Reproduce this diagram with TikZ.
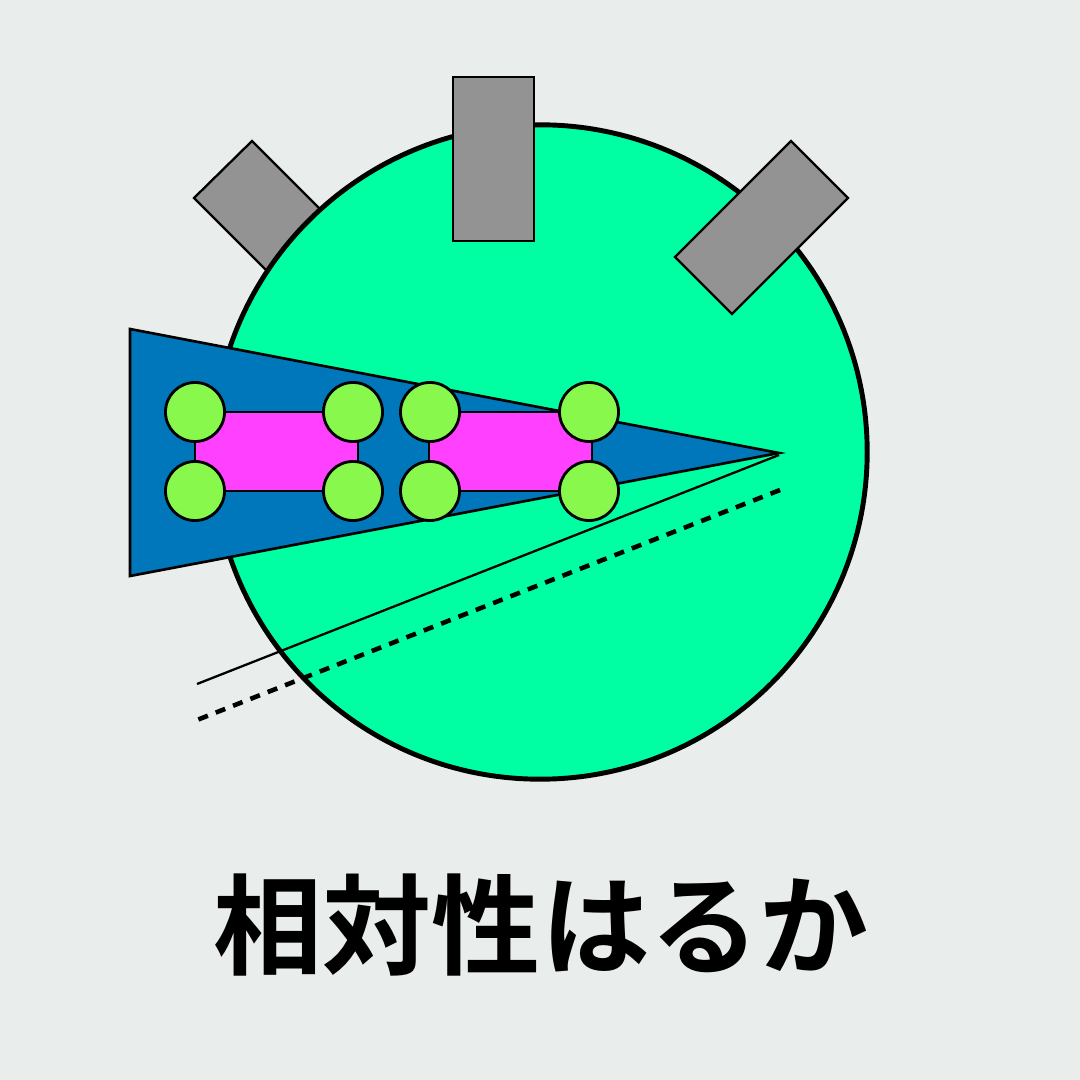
\documentclass[tikz,border=0pt]{standalone}
\usepackage{fontspec}
\newfontfamily\cjk[BoldFont={Noto Sans CJK JP Bold}]{Noto Sans CJK JP}
\definecolor{fondo}{RGB}{233,238,236}
\definecolor{cuerpo}{RGB}{0,255,162}
\definecolor{gris}{RGB}{147,147,147}
\definecolor{azul}{RGB}{0,118,187}
\definecolor{rosa}{RGB}{255,64,255}
\definecolor{verde}{RGB}{136,248,76}

\begin{document}
\begin{tikzpicture}[x=0.01cm,y=-0.01cm,line width=0.75pt,
  rueda/.style={fill=verde,draw=black,line width=0.8pt}]
  \useasboundingbox (0,0) rectangle (1080,1080);
  \fill[fondo] (0,0) rectangle (1080,1080);
  % ===================== placa izquierda (detras) =====================
  \fill[gris] (252,141)--(194,198)--(310,314)--(368,257)--cycle;
  \draw[line width=0.65pt] (252,141)--(194,198)--(310,314)--(368,257)--cycle;
  % ===================== cuerpo =====================
  \fill[cuerpo] (540,452) circle[radius=3.27cm];
  \draw[line width=1.4pt] (540,452) circle[radius=3.27cm];
  % placas de arriba
  \fill[gris] (453,77) rectangle (534,241); \draw[line width=0.65pt] (453,77) rectangle (534,241);
  \fill[gris] (791,141)--(848,198)--(732,314)--(675,257)--cycle;
  \draw[line width=0.65pt] (791,141)--(848,198)--(732,314)--(675,257)--cycle;
  % ===================== cono azul =====================
  \coordinate (punta) at (779,453);
  \fill[azul] (130,329)--(130,576)--(punta)--cycle;
  \draw[line width=0.75pt] (130,329)--(130,576)--(punta)--cycle;
  % ---------- rayos ----------
  \coordinate (finA) at (197,684);
  \coordinate (iniB) at (780,490); \coordinate (finB) at (197,720);
  \draw[line width=0.65pt] (779,455)--(finA);
  \draw[line width=1.3pt,dash pattern=on 2.9pt off 2.4pt] (iniB)--(finB);
  % ===================== vagones =====================
  \fill[rosa] (195,412) rectangle (358,491); \draw[line width=0.8pt] (195,412) rectangle (358,491);
  \fill[rosa] (429,412) rectangle (592,491); \draw[line width=0.8pt] (429,412) rectangle (592,491);
  % ruedas
  \draw[rueda] (195,412) circle[radius=0.295cm]; \draw[rueda] (195,491) circle[radius=0.295cm];
  \draw[rueda] (353,412) circle[radius=0.295cm]; \draw[rueda] (353,491) circle[radius=0.295cm];
  \draw[rueda] (430,412) circle[radius=0.295cm]; \draw[rueda] (430,491) circle[radius=0.295cm];
  \draw[rueda] (589,412) circle[radius=0.295cm]; \draw[rueda] (589,491) circle[radius=0.295cm];
  % ===================== titulo =====================
  \node[font=\cjk\bfseries\fontsize{31}{31}\selectfont,inner sep=0pt] (titulo) at (541,925) {相対性はるか};
\end{tikzpicture}
\end{document}
